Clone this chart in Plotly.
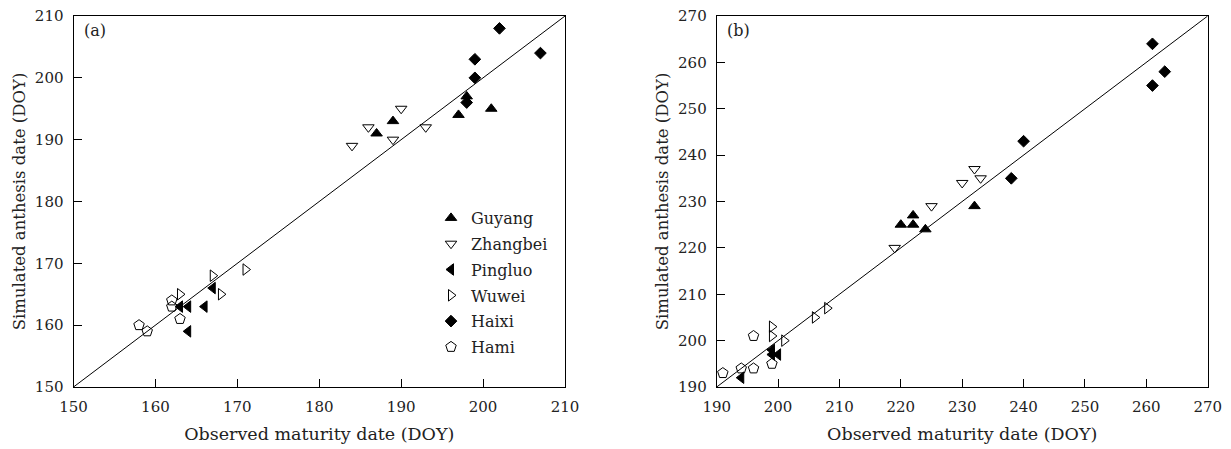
import plotly.graph_objects as go

# ---------------- data: panel (a) ----------------
a_guyang_x = [187, 189, 197, 198, 201]
a_guyang_y = [191, 193, 194, 197, 195]
a_zhangbei_x = [184, 186, 189, 190, 193]
a_zhangbei_y = [189, 192, 190, 195, 192]
a_pingluo_x = [163, 164, 166, 164, 167]
a_pingluo_y = [163, 163, 163, 159, 166]
a_wuwei_x = [163, 167, 168, 171]
a_wuwei_y = [165, 168, 165, 169]
a_haixi_x = [202, 207, 199, 199, 198]
a_haixi_y = [208, 204, 203, 200, 196]
a_hami_x = [158, 159, 162, 162, 163]
a_hami_y = [160, 159, 164, 163, 161]

# ---------------- data: panel (b) ----------------
b_guyang_x = [220, 222, 222, 224, 232]
b_guyang_y = [225, 225, 227, 224, 229]
b_zhangbei_x = [219, 225, 230, 232, 233]
b_zhangbei_y = [220, 229, 234, 237, 235]
b_pingluo_x = [194, 199, 199, 200]
b_pingluo_y = [192, 198, 197, 197]
b_wuwei_x = [199, 199, 201, 206, 208]
b_wuwei_y = [203, 201, 200, 205, 207]
b_haixi_x = [238, 240, 261, 263, 261]
b_haixi_y = [235, 243, 264, 258, 255]
b_hami_x = [191, 194, 196, 196, 199]
b_hami_y = [193, 194, 194, 201, 195]

names = ["Guyang", "Zhangbei", "Pingluo", "Wuwei", "Haixi", "Hami"]
symbols = ["triangle-up", "triangle-down-open", "triangle-left", "triangle-right-open",
           "diamond", "pentagon-open"]
sizes = [10, 10, 10, 10, 9, 11]

a_ticks = [150, 160, 170, 180, 190, 200, 210]
b_ticks = [190, 200, 210, 220, 230, 240, 250, 260, 270]

FONT = "DejaVu Serif"
TXT = "#222"

fig = go.Figure()

# 1:1 lines
fig.add_trace(go.Scatter(x=[a_ticks[0], a_ticks[-1]], y=[a_ticks[0], a_ticks[-1]], mode="lines",
                         line=dict(color="black", width=1), showlegend=False,
                         xaxis="x", yaxis="y", hoverinfo="skip"))
fig.add_trace(go.Scatter(x=[b_ticks[0], b_ticks[-1]], y=[b_ticks[0], b_ticks[-1]], mode="lines",
                         line=dict(color="black", width=1), showlegend=False,
                         xaxis="x2", yaxis="y2", hoverinfo="skip"))

a_sets = [(a_guyang_x, a_guyang_y), (a_zhangbei_x, a_zhangbei_y), (a_pingluo_x, a_pingluo_y),
          (a_wuwei_x, a_wuwei_y), (a_haixi_x, a_haixi_y), (a_hami_x, a_hami_y)]
b_sets = [(b_guyang_x, b_guyang_y), (b_zhangbei_x, b_zhangbei_y), (b_pingluo_x, b_pingluo_y),
          (b_wuwei_x, b_wuwei_y), (b_haixi_x, b_haixi_y), (b_hami_x, b_hami_y)]

for i, (name, sym) in enumerate(zip(names, symbols)):
    mk = dict(symbol=sym, size=sizes[i], color="black", line=dict(color="black", width=1))
    fig.add_trace(go.Scatter(x=a_sets[i][0], y=a_sets[i][1], mode="markers", name=name,
                             marker=mk, xaxis="x", yaxis="y", legendgroup=name, showlegend=True))
    fig.add_trace(go.Scatter(x=b_sets[i][0], y=b_sets[i][1], mode="markers", name=name,
                             marker=mk, xaxis="x2", yaxis="y2", legendgroup=name, showlegend=False))

axis_common = dict(showline=True, linecolor="black", linewidth=1, mirror=True,
                   ticks="inside", ticklen=8, tickcolor="black", tickwidth=1,
                   showgrid=False, zeroline=False, automargin=False,
                   tickfont=dict(family=FONT, size=15, color=TXT),
                   ticklabelstandoff=6)

xtitle_font = dict(family=FONT, size=17.5, color=TXT)
ytitle_font = dict(family=FONT, size=16.5, color=TXT)
ydom = [1 - 387 / 449, 1 - 16 / 449]
fig.update_layout(
    width=1231, height=449,
    margin=dict(l=0, r=0, t=0, b=0),
    paper_bgcolor="white", plot_bgcolor="white",
    font=dict(family=FONT, size=16, color=TXT),
    xaxis=dict(domain=[73.5 / 1231, 565 / 1231], range=[150, 210], tickvals=a_ticks,
               title=dict(text="Observed maturity date (DOY)", font=xtitle_font, standoff=12),
               anchor="y", **axis_common),
    yaxis=dict(domain=ydom, range=[150, 210], tickvals=a_ticks,
               title=dict(text="Simulated anthesis date (DOY)", font=ytitle_font, standoff=5),
               anchor="x", **axis_common),
    xaxis2=dict(domain=[716.7 / 1231, 1207.7 / 1231], range=[190, 270], tickvals=b_ticks,
                title=dict(text="Observed maturity date (DOY)", font=xtitle_font, standoff=12),
                anchor="y2", **axis_common),
    yaxis2=dict(domain=ydom, range=[190, 270], tickvals=b_ticks,
                title=dict(text="Simulated anthesis date (DOY)", font=ytitle_font, standoff=5),
                anchor="x2", **axis_common),
    legend=dict(x=431 / 1231, y=1 - 201 / 449, xanchor="left", yanchor="top",
                bgcolor="rgba(0,0,0,0)", font=dict(family=FONT, size=16, color=TXT),
                tracegroupgap=2, itemwidth=30),
    annotations=[
        dict(text="(a)", x=0.017, y=0.992, xref="x domain", yref="y domain", showarrow=False,
             xanchor="left", yanchor="top", font=dict(family=FONT, size=16, color=TXT)),
        dict(text="(b)", x=0.017, y=0.992, xref="x2 domain", yref="y2 domain", showarrow=False,
             xanchor="left", yanchor="top", font=dict(family=FONT, size=16, color=TXT)),
    ],
)

fig.write_html("out.html")
